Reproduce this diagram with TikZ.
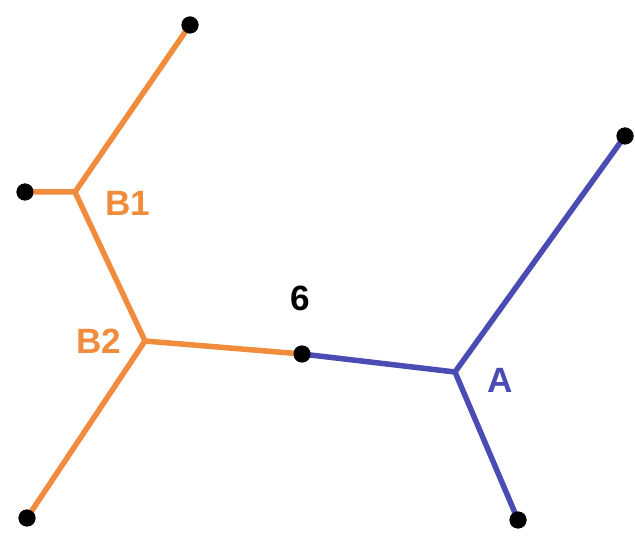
\documentclass[tikz,border=0pt]{standalone}
\usepackage{fontspec}
\setsansfont{Liberation Sans}
\definecolor{treeorange}{RGB}{240,140,60}
\definecolor{treeblue}{RGB}{75,75,180}

\begin{document}
\begin{tikzpicture}[x=0.02cm, y=-0.02cm, font=\sffamily\bfseries\fontsize{20}{24}\selectfont]
\tikzset{leaf/.style={circle, fill=black, inner sep=0pt, minimum size=0.34cm}}
\useasboundingbox (0,0) rectangle (635,536);
\coordinate (B1) at (75,192);
\coordinate (B2) at (145,341);
\coordinate (A) at (455,372);
\node[leaf] (top) at (190,25) {};
\node[leaf] (left) at (25,192) {};
\node[leaf] (botleft) at (27,518) {};
\node[leaf] (six) at (302,354) {};
\node[leaf] (topright) at (625,136) {};
\node[leaf] (botright) at (518,520) {};
\draw[line width=1.1mm, treeorange, line cap=round] (left.center) -- (B1) -- (top.center);
\draw[line width=1.1mm, treeorange, line join=round] (B1) -- (B2) -- (six.center);
\draw[line width=1.1mm, treeorange, line cap=round] (B2) -- (botleft.center);
\draw[line width=1.1mm, treeblue, line join=round] (six.center) -- (A) -- (topright.center);
\draw[line width=1.1mm, treeblue] (A) -- (botright.center);
\foreach \n in {top,left,botleft,six,topright,botright} \node[leaf] at (\n) {};
\node[treeorange] at (128,203) {B1};
\node[treeorange] at (99,341) {B2};
\node at (300,298) {6};
\node[treeblue] at (500,380) {A};
\end{tikzpicture}
\end{document}
